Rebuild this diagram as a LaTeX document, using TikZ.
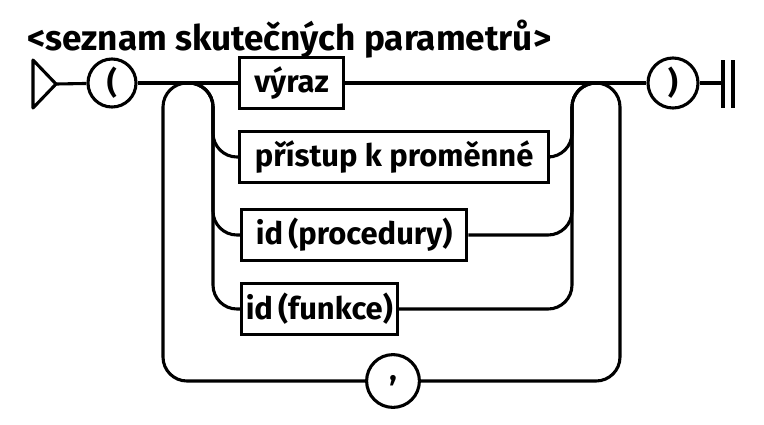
\documentclass[tikz,border=0pt]{standalone}
\usepackage{fontspec}
\setmainfont{Fira Sans}
\begin{document}
\begin{tikzpicture}[x=0.025cm,y=-0.025cm]

\tikzset{box/.style = {draw, line width=2.2pt, minimum height=1.27cm, anchor=west, inner xsep=3pt, font=\fontsize{22}{26}\selectfont\bfseries}}
\tikzset{term/.style = {draw, circle, line width=2.2pt, inner sep=0pt, font=\fontsize{22}{26}\selectfont\bfseries}}
\tikzset{line/.style = {line width=2.2pt}}
\tikzset{rline/.style = {line width=2.2pt, rounded corners=0.6cm}}
\useasboundingbox (0,0) rectangle (764,424);
%\draw[help lines] (0,0) grid[step=50] (764,424);
\node[anchor=base west, inner sep=0pt, font=\fontsize{25}{29}\selectfont\bfseries] (title) at (27,50) {<seznam skutečných parametrů>};

\node[term, minimum size=1.2cm] (lpar) at (112,83) {(};
\node[box, minimum width=2.6cm] (vyraz) at (238,83) {výraz};
\node[box, minimum width=7.73cm] (pristup) at (238,157) {přístup k proměnné};
\node[box, minimum width=5.63cm] (proc) at (240,235) {id\,(procedury)};
\node[box, minimum width=3.88cm] (funkce) at (240,309) {id\,(funkce)};
\node[term, minimum size=1.25cm] (rpar) at (673,83) {)};
\node[term, minimum size=1.32cm] (comma) at (393,381) {,};

\coordinate (start) at (56,84);
\coordinate (lo) at (163,83);
\coordinate (li) at (213,83);
\coordinate (ri) at (572,83);
\coordinate (ro) at (620,83);
\coordinate (lb) at (163,381);
\coordinate (rb) at (620,381);
\coordinate (fin) at (723,83);

\draw[line, line join=round] (33,60) -- (start) -- (33,108) -- cycle;
\draw[line] (start) -- (lpar);
\draw[line] (lpar) -- (vyraz);
\draw[line] (vyraz) -- (rpar);
\draw[line] (rpar) -- (fin);
\draw[line] (723,60) -- (723,108) (733,60) -- (733,108);

\draw[rline] (comma) -- (lb) -- (lo) -- (li);
\foreach \b in {pristup, proc, funkce} {
  \draw[rline] (lo) -- (li) -- (li |- \b.west) -- (\b.west);
  \draw[rline] (\b.east) -- (ri |- \b.east) -- (ri) -- (ro);
}
\draw[rline] (ri) -- (ro) -- (rb) -- (comma);
\end{tikzpicture}
\end{document}
